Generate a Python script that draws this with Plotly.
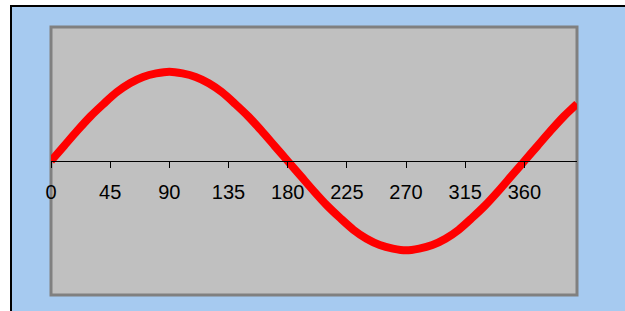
import plotly.graph_objects as go

degrees = [0, 10, 20, 30, 40, 50, 60, 70, 80, 90, 100, 110, 120, 130, 140, 150, 160, 170, 180,
           190, 200, 210, 220, 230, 240, 250, 260, 270, 280, 290, 300, 310, 320, 330, 340, 350, 360,
           370, 380, 390, 400]
values = [0.00, 0.17, 0.34, 0.50, 0.64, 0.77, 0.87, 0.94, 0.98, 1.00, 0.98, 0.94, 0.87, 0.77, 0.64,
          0.50, 0.34, 0.17, 0.00, -0.17, -0.34, -0.50, -0.64, -0.77, -0.87, -0.94, -0.98, -1.00,
          -0.98, -0.94, -0.87, -0.77, -0.64, -0.50, -0.34, -0.17, 0.00, 0.17, 0.34, 0.50, 0.64]
tick_vals = [0, 45, 90, 135, 180, 225, 270, 315, 360]
tick_text = ["0", "45", "90", "135", "180", "225", "270", "315", "360"]

W, H = 625, 311
L, R, T, B = 51, 48, 27, 16
pw, ph = W - L - R, H - T - B

def px_x(p):
    return (p - L) / pw

def px_y(p):
    return (H - B - p) / ph

fig = go.Figure()
fig.add_trace(go.Scatter(x=degrees, y=values, mode="lines",
                         line=dict(color="#ff0000", width=8, shape="spline", smoothing=0.8),
                         hoverinfo="skip"))

fig.update_layout(
    width=W, height=H,
    margin=dict(l=L, r=R, t=T, b=B),
    paper_bgcolor="white",
    plot_bgcolor="rgba(0,0,0,0)",
    showlegend=False,
    font=dict(family="Arial, Liberation Sans, sans-serif", size=20, color="black"),
    xaxis=dict(range=[0, 400], tickvals=tick_vals, ticktext=tick_text,
               anchor="free", position=0.5, showline=True, linecolor="black", linewidth=1,
               ticks="outside", ticklen=6, tickcolor="black", tickwidth=1,
               ticklabelstandoff=7,
               showgrid=False, zeroline=False, tickfont=dict(size=20)),
    yaxis=dict(range=[-1.5, 1.5], visible=False, showgrid=False, zeroline=False),
    shapes=[
        dict(type="rect", xref="paper", yref="paper", layer="below",
             x0=px_x(11), y0=px_y(6), x1=px_x(W + 20), y1=px_y(H + 20),
             fillcolor="#a6caf0", line=dict(color="black", width=2)),
        dict(type="rect", xref="paper", yref="paper", layer="below",
             x0=0, y0=0, x1=1, y1=1,
             fillcolor="#c0c0c0", line=dict(color="#808080", width=3)),
    ],
)

fig.write_html("out.html", config={"displayModeBar": False},
               post_script="document.body.style.margin='0';document.body.style.overflow='hidden';")
